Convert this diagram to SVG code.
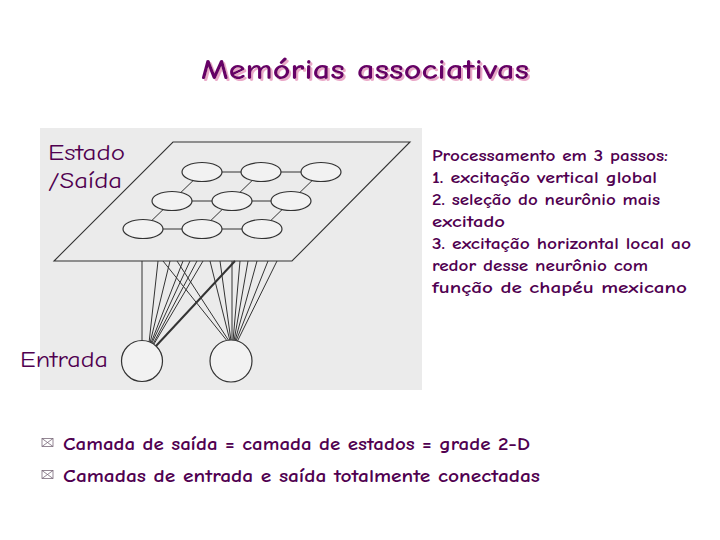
<svg xmlns="http://www.w3.org/2000/svg" width="720" height="540" viewBox="0 0 720 540">
<style>
.t{font-family:"Comic Neue","Liberation Sans","DejaVu Sans",sans-serif;fill:#500050;font-weight:bold}
.ln{stroke:#333;stroke-width:1;fill:none}
.nd{fill:#f2f2f2;stroke:#333;stroke-width:1.2}
.env{fill:none;stroke:#7a6a7a;stroke-width:0.8}
</style>
<defs>
<filter id="sh" x="-10%" y="-30%" width="120%" height="160%">
<feDropShadow dx="2" dy="2" stdDeviation="0.4" flood-color="#eaa8c8" flood-opacity="1"/>
</filter>
</defs>
<rect width="720" height="540" fill="#fff"/>
<rect x="40" y="128" width="382" height="262" fill="#ebebeb"/>
<g id="title">
<text x="365" y="79" text-anchor="middle" class="t" font-size="28" style="fill:#660066" filter="url(#sh)" textLength="328" lengthAdjust="spacingAndGlyphs">Memórias associativas</text>
</g>
<g id="plane">
<polygon points="173,142 410,142 292,261 54,261" fill="none" stroke="#333" stroke-width="1.1"/>
</g>
<g id="connectors" class="ln">
<line x1="202" y1="172" x2="321" y2="172"/>
<line x1="172" y1="201" x2="291" y2="201"/>
<line x1="143" y1="229" x2="262" y2="229"/>
<line x1="202" y1="172" x2="143" y2="229"/>
<line x1="261" y1="172" x2="202" y2="229"/>
<line x1="321" y1="172" x2="262" y2="229"/>
<line x1="142" y1="261" x2="142" y2="341"/>
<line x1="158" y1="261" x2="149" y2="343"/>
<line x1="170" y1="261" x2="150" y2="343"/>
<line x1="183" y1="261" x2="151" y2="343"/>
<line x1="190" y1="261" x2="152" y2="343"/>
<line x1="197" y1="261" x2="153" y2="344"/>
<line x1="203" y1="261" x2="154" y2="344"/>
<line x1="235" y1="261" x2="156" y2="346" stroke-width="2"/>
<line x1="163" y1="261" x2="228" y2="342"/>
<line x1="177" y1="261" x2="229" y2="341"/>
<line x1="210" y1="261" x2="230" y2="341"/>
<line x1="220" y1="261" x2="231" y2="341"/>
<line x1="232" y1="261" x2="232" y2="341"/>
<line x1="240" y1="261" x2="233" y2="341"/>
<line x1="248" y1="261" x2="234" y2="341"/>
<line x1="257" y1="261" x2="235" y2="341"/>
<line x1="268" y1="261" x2="236" y2="341"/>
<line x1="277" y1="261" x2="237" y2="342"/>
</g>
<g id="n11"><ellipse class="nd" cx="202" cy="172" rx="20" ry="9.5"/></g>
<g id="n12"><ellipse class="nd" cx="261" cy="172" rx="20" ry="9.5"/></g>
<g id="n13"><ellipse class="nd" cx="321" cy="172" rx="20" ry="9.5"/></g>
<g id="n21"><ellipse class="nd" cx="172" cy="201" rx="20" ry="9.5"/></g>
<g id="n22"><ellipse class="nd" cx="232" cy="201" rx="20" ry="9.5"/></g>
<g id="n23"><ellipse class="nd" cx="291" cy="201" rx="20" ry="9.5"/></g>
<g id="n31"><ellipse class="nd" cx="143" cy="229" rx="20" ry="9.5"/></g>
<g id="n32"><ellipse class="nd" cx="202" cy="229" rx="20" ry="9.5"/></g>
<g id="n33"><ellipse class="nd" cx="262" cy="229" rx="20" ry="9.5"/></g>
<g id="in1"><circle class="nd" cx="142" cy="361" r="20.5"/></g>
<g id="in2"><circle class="nd" cx="231" cy="361" r="21"/></g>
<g id="labels">
<text x="48" y="160" class="t" font-size="22" style="font-weight:normal" textLength="77" lengthAdjust="spacingAndGlyphs">Estado</text>
<text x="48" y="188" class="t" font-size="22" style="font-weight:normal" textLength="74" lengthAdjust="spacingAndGlyphs">/Saída</text>
<text x="20" y="367" class="t" font-size="22" style="font-weight:normal" textLength="88" lengthAdjust="spacingAndGlyphs">Entrada</text>
</g>
<g id="steps" class="t" font-size="15">
<text x="432" y="161" textLength="236" lengthAdjust="spacingAndGlyphs">Processamento em 3 passos:</text>
<text x="432" y="183" textLength="225" lengthAdjust="spacingAndGlyphs">1. excitação vertical global</text>
<text x="432" y="205" textLength="228" lengthAdjust="spacingAndGlyphs">2. seleção do neurônio mais</text>
<text x="432" y="227" textLength="73" lengthAdjust="spacingAndGlyphs">excitado</text>
<text x="432" y="249" textLength="259" lengthAdjust="spacingAndGlyphs">3. excitação horizontal local ao</text>
<text x="432" y="271" textLength="216" lengthAdjust="spacingAndGlyphs">redor desse neurônio com</text>
<text x="432" y="293" textLength="255" lengthAdjust="spacingAndGlyphs">função de chapéu mexicano</text>
</g>
<g id="bullets">
<rect class="env" x="42" y="438.5" width="11" height="8"/>
<path class="env" d="M42,438.5 L53,446.5 M53,438.5 L42,446.5"/>
<rect class="env" x="42" y="470.5" width="11" height="8"/>
<path class="env" d="M42,470.5 L53,478.5 M53,470.5 L42,478.5"/>
<text x="63" y="450" class="t" font-size="19" textLength="467" lengthAdjust="spacingAndGlyphs">Camada de saída = camada de estados = grade 2-D</text>
<text x="63" y="482" class="t" font-size="19" textLength="477" lengthAdjust="spacingAndGlyphs">Camadas de entrada e saída totalmente conectadas</text>
</g>
</svg>
